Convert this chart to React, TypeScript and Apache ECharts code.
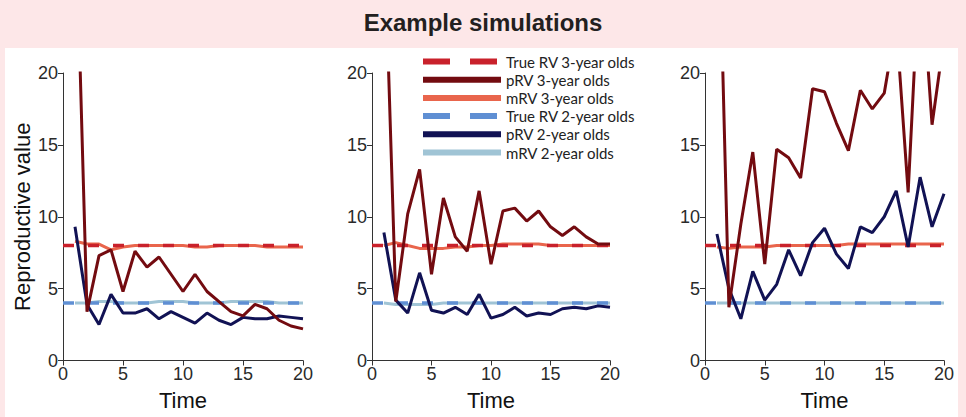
import React, { useEffect, useRef } from "react";
import * as echarts from "echarts";

// ---- data ----
const times = [1, 2, 3, 4, 5, 6, 7, 8, 9, 10, 11, 12, 13, 14, 15, 16, 17, 18, 19, 20];
const trueTimes = [0, 20];
const trueRV3 = [8, 8];
const trueRV2 = [4, 4];

// panel 1
const pRV3_a = [33, 3.4, 7.3, 7.7, 4.8, 7.6, 6.5, 7.2, 6.0, 4.8, 6.0, 4.8, 4.1, 3.4, 3.1, 3.9, 3.6, 2.8, 2.4, 2.2];
const pRV2_a = [9.3, 3.9, 2.5, 4.6, 3.3, 3.3, 3.6, 2.9, 3.4, 3.0, 2.6, 3.3, 2.8, 2.5, 3.0, 2.9, 2.9, 3.1, 3.0, 2.9];
const mRV3_a = [8.3, 8.1, 8.1, 7.7, 7.9, 8.0, 8.0, 8.0, 8.0, 8.0, 7.9, 7.9, 8.0, 8.0, 8.0, 8.0, 7.9, 7.9, 7.9, 7.9];
const mRV2_a = [4.0, 4.0, 4.1, 4.1, 4.0, 4.0, 4.0, 4.1, 4.1, 4.1, 4.0, 4.0, 4.0, 4.1, 4.1, 4.1, 4.1, 4.0, 4.0, 4.0];

// panel 2
const pRV3_b = [30.6, 4.1, 10.2, 13.3, 6.0, 11.3, 8.6, 7.6, 11.8, 6.7, 10.4, 10.6, 9.7, 10.4, 9.3, 8.7, 9.3, 8.6, 8.1, 8.1];
const pRV2_b = [8.9, 4.2, 3.3, 6.1, 3.5, 3.3, 3.7, 3.2, 4.6, 2.95, 3.2, 3.7, 3.1, 3.3, 3.2, 3.6, 3.7, 3.6, 3.8, 3.7];
const mRV3_b = [8.0, 8.2, 8.0, 7.8, 7.8, 7.8, 7.9, 7.9, 8.0, 8.0, 8.1, 8.1, 8.1, 8.1, 8.0, 8.0, 8.0, 8.0, 8.0, 8.0];
const mRV2_b = [4.0, 3.9, 3.9, 3.9, 3.9, 4.0, 4.0, 4.0, 4.0, 4.0, 4.0, 4.0, 4.0, 4.0, 4.0, 4.0, 4.0, 4.0, 4.0, 4.0];

// panel 3
const pRV3_c = [36, 3.7, 9.5, 14.5, 6.7, 14.7, 14.1, 12.7, 18.9, 18.7, 16.5, 14.6, 18.8, 17.5, 18.6, 23.5, 11.7, 28.3, 16.4, 22.4];
const pRV2_c = [8.8, 5.0, 2.9, 6.2, 4.2, 5.3, 7.7, 5.9, 8.2, 9.2, 7.4, 6.4, 9.3, 8.9, 10.0, 11.8, 7.9, 12.75, 9.3, 11.6];
const mRV3_c = [7.9, 7.8, 7.9, 7.9, 7.9, 8.0, 8.0, 8.0, 8.0, 8.0, 8.0, 8.1, 8.1, 8.1, 8.1, 8.1, 8.1, 8.1, 8.1, 8.1];
const mRV2_c = [4.0, 4.0, 4.0, 4.0, 4.0, 4.0, 4.0, 4.0, 4.0, 4.0, 4.0, 4.0, 4.0, 4.0, 4.0, 4.0, 4.0, 4.0, 4.0, 4.0];

const names = [
  "True RV 3-year olds",
  "pRV 3-year olds",
  "mRV 3-year olds",
  "True RV 2-year olds",
  "pRV 2-year olds",
  "mRV 2-year olds",
];

const C_TRUE3 = "#c9212b";
const C_P3 = "#730b10";
const C_M3 = "#e9654c";
const C_TRUE2 = "#5f8fd3";
const C_P2 = "#111254";
const C_M2 = "#a0c4d5";

const panels = [
  { p3: pRV3_a, p2: pRV2_a, m3: mRV3_a, m2: mRV2_a },
  { p3: pRV3_b, p2: pRV2_b, m3: mRV3_b, m2: mRV2_b },
  { p3: pRV3_c, p2: pRV2_c, m3: mRV3_c, m2: mRV2_c },
];

const FONT = "Liberation Sans, Arial, sans-serif";

export default function App() {
  const ref = useRef<HTMLDivElement>(null);
  useEffect(() => {
    if (!ref.current) return;
    const chart = echarts.init(ref.current, undefined, { renderer: "svg" });

    const gridDefs = [
      { left: 63, top: 73, width: 240, height: 287.5 },
      { left: 372, top: 73, width: 238, height: 287.5 },
      { left: 705, top: 73, width: 239, height: 287.5 },
    ];

    const axisCommon = {
      type: "value" as const,
      min: 0,
      max: 20,
      interval: 5,
      splitLine: { show: false },
      axisLine: { show: true, lineStyle: { color: "#333", width: 1 } },
      axisTick: { show: true, inside: false, length: 5, lineStyle: { color: "#333" } },
      axisLabel: { color: "#2a2a2a", fontSize: 18, fontFamily: FONT },
    };

    const xAxes = gridDefs.map((_, i) => ({
      ...axisCommon,
      gridIndex: i,
      axisLabel: { ...axisCommon.axisLabel, margin: 4 },
      name: "Time",
      nameLocation: "middle",
      nameGap: 29,
      nameTextStyle: { color: "#111", fontSize: 22, fontFamily: FONT },
    }));
    const yAxes = gridDefs.map((_, i) => ({
      ...axisCommon,
      gridIndex: i,
      axisLabel: { ...axisCommon.axisLabel, margin: 5 },
      name: i === 0 ? "Reproductive value" : "",
      nameLocation: "middle",
      nameGap: 30,
      nameTextStyle: { color: "#111", fontSize: 22, fontFamily: FONT },
    }));

    const mk = (name: string, gi: number, xs: number[], ys: number[], ls: any, z: number) => ({
      type: "line",
      name,
      xAxisIndex: gi,
      yAxisIndex: gi,
      data: xs.map((x, k) => [x, ys[k]]),
      symbol: "none",
      showSymbol: false,
      clip: true,
      z,
      lineStyle: ls,
      itemStyle: { color: ls.color },
    });

    const series: any[] = [];
    panels.forEach((p, gi) => {
      series.push(mk(names[2], gi, times, p.m3, { color: C_M3, width: 3 }, 2));
      series.push(mk(names[5], gi, times, p.m2, { color: C_M2, width: 3 }, 2));
      series.push(mk(names[0], gi, trueTimes, trueRV3, { color: C_TRUE3, width: 3.5, type: [11, 14] }, 3));
      series.push(mk(names[3], gi, trueTimes, trueRV2, { color: C_TRUE2, width: 3.5, type: [11, 14] }, 3));
      series.push(mk(names[4], gi, times, p.p2, { color: C_P2, width: 3 }, 4));
      series.push(mk(names[1], gi, times, p.p3, { color: C_P3, width: 3 }, 5));
    });

    const legendData = names.map((n, i) => ({
      name: n,
      itemStyle: { opacity: 0 },
      lineStyle: i === 0 || i === 3 ? { width: 6, type: [27, 20] } : { width: 6, type: "solid" },
    }));

    chart.setOption({
      animation: false,
      backgroundColor: "#fde7e8",
      graphic: [
        {
          type: "rect",
          shape: { x: 5, y: 48, width: 953, height: 369 },
          style: { fill: "#ffffff" },
          z: -10,
        },
        {
          type: "text",
          x: 483,
          y: 22,
          style: {
            text: "Example simulations",
            fill: "#231f20",
            font: `bold 24px ${FONT}`,
            textAlign: "center",
            textVerticalAlign: "middle",
          },
        },
      ],
      legend: {
        orient: "vertical",
        left: 420,
        top: 54,
        itemWidth: 78,
        itemHeight: 14,
        itemGap: 3.2,
        padding: 0,
        selectedMode: false,
        itemStyle: { opacity: 0 },
        lineStyle: { width: 6 },
        textStyle: { color: "#222", fontSize: 15, fontFamily: "Lato, sans-serif" },
        data: legendData,
      },
      grid: gridDefs,
      xAxis: xAxes,
      yAxis: yAxes,
      series,
    });
    return () => chart.dispose();
  }, []);
  return (
    <div
      ref={ref}
      style={{ position: "fixed", left: 0, top: 0, width: 966, height: 417 }}
    />
  );
}
